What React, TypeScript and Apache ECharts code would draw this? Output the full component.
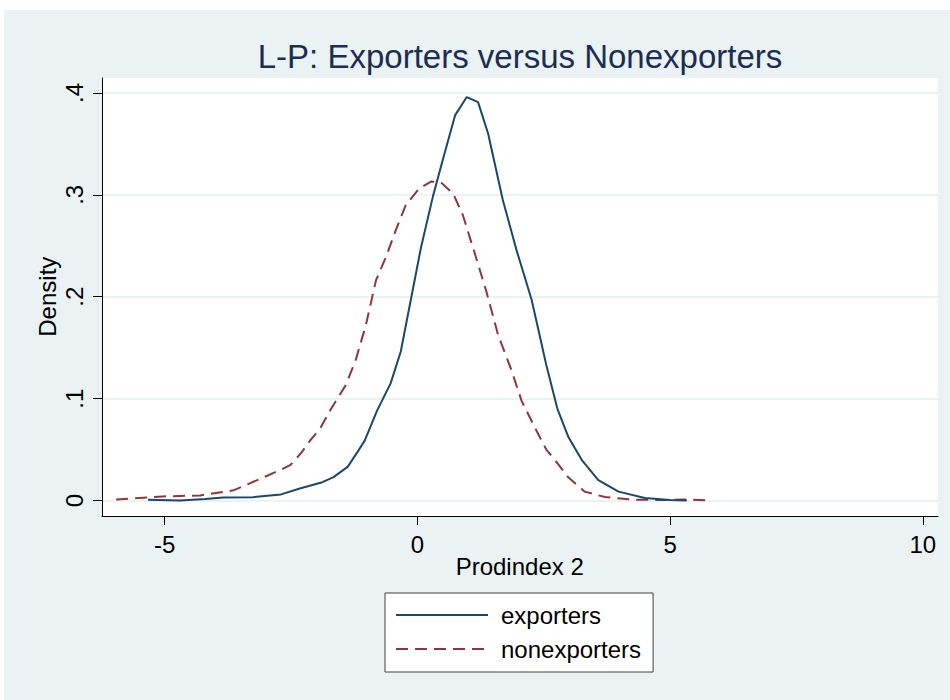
import React, { useEffect, useRef } from "react";
import * as echarts from "echarts";

// Kernel density estimates
const exportersX = [-5.33, -4.7, -4.2, -3.84, -3.25, -2.7, -2.31, -1.88, -1.66, -1.38, -1.18, -1.04, -0.8, -0.53, -0.33, -0.13, 0.07, 0.31, 0.5, 0.745, 0.977, 1.2, 1.4, 1.69, 1.96, 2.26, 2.55, 2.77, 2.99, 3.25, 3.58, 3.98, 4.5, 5.0, 5.33];
const exportersY = [0.0008, 0.0, 0.0015, 0.003, 0.0033, 0.006, 0.012, 0.018, 0.023, 0.033, 0.048, 0.059, 0.088, 0.115, 0.146, 0.197, 0.248, 0.299, 0.334, 0.378, 0.396, 0.391, 0.36, 0.295, 0.246, 0.197, 0.133, 0.09, 0.062, 0.04, 0.02, 0.0087, 0.0025, 0.0005, 0.0];

const nonexportersX = [-5.96, -5.04, -4.3, -3.64, -3.17, -2.71, -2.51, -2.31, -2.12, -1.92, -1.72, -1.42, -1.22, -1.02, -0.82, -0.63, -0.43, -0.23, 0.03, 0.27, 0.39, 0.47, 0.71, 0.9, 1.12, 1.36, 1.6, 1.86, 2.06, 2.32, 2.55, 2.75, 2.98, 3.31, 3.71, 4.3, 4.98, 5.37, 5.79];
const nonexportersY = [0.001, 0.004, 0.005, 0.01, 0.02, 0.03, 0.035, 0.046, 0.059, 0.071, 0.089, 0.113, 0.138, 0.172, 0.216, 0.238, 0.265, 0.29, 0.306, 0.313, 0.3125, 0.312, 0.301, 0.28, 0.245, 0.206, 0.162, 0.128, 0.098, 0.072, 0.05, 0.038, 0.023, 0.0087, 0.0034, 0.0008, 0.0005, 0.001, 0.0];

const xTicks = [-5, 0, 5, 10];
const yTicks = [0, 0.1, 0.2, 0.3, 0.4];

const seriesNames = ["exporters", "nonexporters"];
const titleText = "L-P: Exporters versus Nonexporters";
const xAxisTitle = "Prodindex 2";
const yAxisTitle = "Density";

const FONT = "'Liberation Sans', Arial, Helvetica, sans-serif";

export default function App() {
  const ref = useRef<HTMLDivElement>(null);

  useEffect(() => {
    if (!ref.current) return;
    const chart = echarts.init(ref.current, null, { renderer: "svg" });
    const expData = exportersX.map((x, i) => [x, exportersY[i]]);
    const nonData = nonexportersX.map((x, i) => [x, nonexportersY[i]]);

    chart.setOption({
      animation: false,
      backgroundColor: "#EAF2F3",
      textStyle: { fontFamily: FONT },
      grid: {
        left: 98,
        top: 68,
        right: 12,
        bottom: 184,
        show: true,
        backgroundColor: "#ffffff",
        borderWidth: 0,
      },
      xAxis: {
        type: "value",
        min: -6.24,
        max: 10.3,
        axisLine: { show: true, onZero: false, lineStyle: { color: "#000", width: 1 } },
        axisTick: { show: true, customValues: xTicks, length: 9, lineStyle: { color: "#000", width: 1 } },
        axisLabel: { customValues: xTicks, fontSize: 24, color: "#000", margin: 16, fontFamily: FONT },
        splitLine: { show: false },
      },
      yAxis: {
        type: "value",
        min: -0.0152,
        max: 0.4147,
        axisLine: { show: true, onZero: false, lineStyle: { color: "#000", width: 1 } },
        axisTick: { show: true, customValues: yTicks, length: 9, lineStyle: { color: "#000", width: 1 } },
        axisLabel: {
          customValues: yTicks,
          rotate: 90,
          fontSize: 24,
          color: "#000",
          margin: 16,
          fontFamily: FONT,
          formatter: (v: number) => (v === 0 ? "0" : String(Number(v.toFixed(2))).replace(/^0/, "")),
        },
        splitLine: { show: true, lineStyle: { color: "#EAF2F3", width: 2 } },
      },
      legend: {
        orient: "vertical",
        left: 381,
        top: 583,
        padding: [10, 12, 11, 10],
        itemGap: 10,
        itemWidth: 92,
        itemHeight: 14,
        backgroundColor: "#ffffff",
        borderColor: "#404040",
        borderWidth: 1,
        selectedMode: false,
        itemStyle: { opacity: 0 },
        textStyle: { fontSize: 24, color: "#000", fontFamily: FONT, padding: [0, 0, 0, 8] },
        data: seriesNames,
      },
      graphic: [
        {
          type: "text",
          x: 516,
          y: 46,
          style: { text: titleText, fontSize: 33, fill: "#1c2d54", align: "center", verticalAlign: "middle", fontFamily: FONT },
        },
        {
          type: "text",
          x: 515.7,
          y: 556.7,
          style: { text: xAxisTitle, fontSize: 24, fill: "#000", align: "center", verticalAlign: "middle", fontFamily: FONT },
        },
        {
          type: "text",
          x: 43.7,
          y: 286.7,
          rotation: Math.PI / 2,
          style: { text: yAxisTitle, fontSize: 24, fill: "#000", align: "center", verticalAlign: "middle", fontFamily: FONT },
        },
      ],
      series: [
        {
          name: seriesNames[0],
          type: "line",
          data: expData,
          symbol: "none",
          lineStyle: { color: "#1A476F", width: 2 },
          itemStyle: { color: "#1A476F" },
          z: 3,
        },
        {
          name: seriesNames[1],
          type: "line",
          data: nonData,
          symbol: "none",
          lineStyle: { color: "#90353B", width: 2, type: [12, 7] },
          itemStyle: { color: "#90353B" },
          z: 2,
        },
      ],
    });
    return () => chart.dispose();
  }, []);

  return (
    <div
      ref={ref}
      style={{ position: "absolute", left: 4, top: 10, width: 946, height: 690 }}
    />
  );
}
